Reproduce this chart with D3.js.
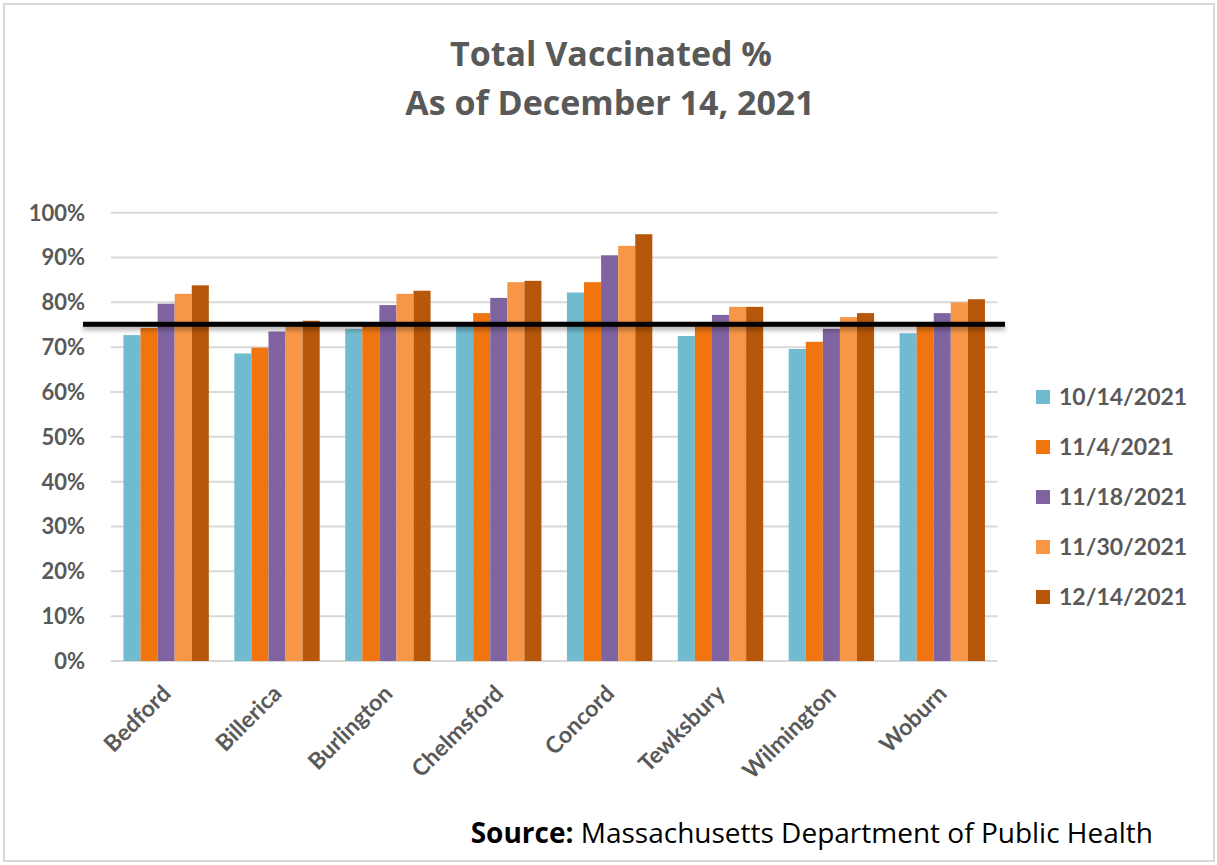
<!DOCTYPE html>
<meta charset="utf-8">
<style>

body {
    background: #fff;
    margin: 0;
    padding: 0;
}

text {
    font-family: 'Lato', 'Open Sans', sans-serif;
}

.title {
    font-family: 'Open Sans', sans-serif;
    font-size: 34px;
    font-weight: bold;
    fill: #595959;
}

.tick-label {
    font-size: 22px;
    font-weight: bold;
    fill: #595959;
}

.town-label {
    font-size: 23px;
    font-weight: bold;
    fill: #595959;
}

.legend-label {
    font-size: 23px;
    font-weight: bold;
    fill: #595959;
}

.source {
    font-family: 'Open Sans', sans-serif;
    font-size: 28px;
    fill: #000;
}

</style>
<svg width="1217" height="865"></svg>

<script src="https://cdn.jsdelivr.net/npm/d3@7"></script>

<script>
// Towns along the x axis
var towns = ["Bedford", "Billerica", "Burlington", "Chelmsford", "Concord", "Tewksbury", "Wilmington", "Woburn"];

// Report dates (one series each)
var dates = ["10/14/2021", "11/4/2021", "11/18/2021", "11/30/2021", "12/14/2021"];

// Percent vaccinated, per date, in town order
var vax1014 = [72.7, 68.6, 74.1, 75.2, 82.2, 72.5, 69.6, 73.1];
var vax1104 = [74.3, 69.9, 75.6, 77.6, 84.5, 74.6, 71.2, 74.9];
var vax1118 = [79.7, 73.5, 79.4, 81.0, 90.5, 77.2, 74.1, 77.6];
var vax1130 = [81.9, 75.2, 81.9, 84.5, 92.6, 79.0, 76.7, 80.0];
var vax1214 = [83.8, 75.9, 82.6, 84.8, 95.2, 79.0, 77.6, 80.7];

// Y axis ticks (percent)
var yTicks = [0, 10, 20, 30, 40, 50, 60, 70, 80, 90, 100];

// Target line (percent)
var target = 75;

var seriesValues = [vax1014, vax1104, vax1118, vax1130, vax1214];
var colors = ["#71bbd0", "#f0750f", "#8064a2", "#f79646", "#b6570a"];

var svg = d3.select("svg");

// outer light grey frame
svg.append("rect")
    .attr("x", 4).attr("y", 4)
    .attr("width", 1210).attr("height", 857)
    .attr("fill", "#fff")
    .attr("stroke", "#d9d9d9")
    .attr("stroke-width", 2);

// Title, two lines
svg.append("text").attr("class", "title")
    .attr("x", 611).attr("y", 66)
    .attr("text-anchor", "middle")
    .text("Total Vaccinated %");
svg.append("text").attr("class", "title")
    .attr("x", 610).attr("y", 115)
    .attr("text-anchor", "middle")
    .text("As of December 14, 2021");

// Scales
var x0 = d3.scaleBand()
    .domain(towns)
    .range([110.7, 997.7])
    .paddingInner(0.23)
    .paddingOuter(0.115);

var x1 = d3.scaleBand()
    .domain(dates)
    .range([0, x0.bandwidth()]);

var y = d3.scaleLinear()
    .domain([0, 100])
    .range([661, 212.7]);

var color = d3.scaleOrdinal().domain(dates).range(colors);

// Gridlines
svg.append("g")
    .selectAll("line")
    .data(yTicks)
    .enter().append("line")
      .attr("x1", 110.7).attr("x2", 997.7)
      .attr("y1", function(d) { return y(d); })
      .attr("y2", function(d) { return y(d); })
      .attr("stroke", "#d9d9d9")
      .attr("stroke-width", 2);

// Y axis labels
svg.append("g")
    .selectAll("text")
    .data(yTicks)
    .enter().append("text")
      .attr("class", "tick-label")
      .attr("x", 85)
      .attr("y", function(d) { return y(d); })
      .attr("dy", "0.36em")
      .attr("text-anchor", "end")
      .text(function(d) { return d + "%"; });

// Bars, one group per town
var groups = svg.append("g")
    .selectAll("g")
    .data(towns)
    .enter().append("g")
      .attr("transform", function(d) { return "translate(" + x0(d) + ",0)"; });

groups.selectAll("rect")
    .data(function(t, i) { return dates.map(function(dt, j) { return {date: dt, value: seriesValues[j][i]}; }); })
    .enter().append("rect")
      .attr("x", function(d) { return x1(d.date); })
      .attr("y", function(d) { return y(d.value); })
      .attr("width", x1.bandwidth())
      .attr("height", function(d) { return y(0) - y(d.value); })
      .attr("fill", function(d) { return color(d.date); });

// X axis labels, rotated
svg.append("g")
    .selectAll("text")
    .data(towns)
    .enter().append("text")
      .attr("class", "town-label")
      .attr("text-anchor", "end")
      .attr("transform", function(d) { return "translate(" + (x0(d) + x0.bandwidth() / 2 + 6) + ",695) rotate(-45)"; })
      .text(function(d) { return d; });

// Target line with soft shadow (drawn as a rect so the filter has a real box)
var defs = svg.append("defs");
var shadow = defs.append("filter").attr("id", "shadow")
    .attr("filterUnits", "userSpaceOnUse")
    .attr("x", 60).attr("y", 300).attr("width", 980).attr("height", 50);
shadow.append("feDropShadow")
    .attr("dx", 0).attr("dy", 3)
    .attr("stdDeviation", 2.5)
    .attr("flood-color", "#000")
    .attr("flood-opacity", 0.35);

svg.append("rect")
    .attr("x", 83).attr("width", 1005 - 83)
    .attr("y", y(target) - 3).attr("height", 5)
    .attr("fill", "#000")
    .attr("filter", "url(#shadow)");

// Legend
var legend = svg.append("g")
    .selectAll("g")
    .data(dates)
    .enter().append("g")
      .attr("transform", function(d, i) { return "translate(1036," + (397 + i * 50) + ")"; });

legend.append("rect")
    .attr("x", 0).attr("y", -7)
    .attr("width", 14).attr("height", 14)
    .attr("fill", function(d) { return color(d); });

legend.append("text")
    .attr("class", "legend-label")
    .attr("x", 23)
    .attr("dy", "0.36em")
    .text(function(d) { return d; });

// Source note
var src = svg.append("text")
    .attr("class", "source")
    .attr("x", 1153).attr("y", 843)
    .attr("text-anchor", "end");
src.append("tspan").attr("font-weight", "bold").text("Source:");
src.append("tspan").text(" Massachusetts Department of Public Health");

</script>
